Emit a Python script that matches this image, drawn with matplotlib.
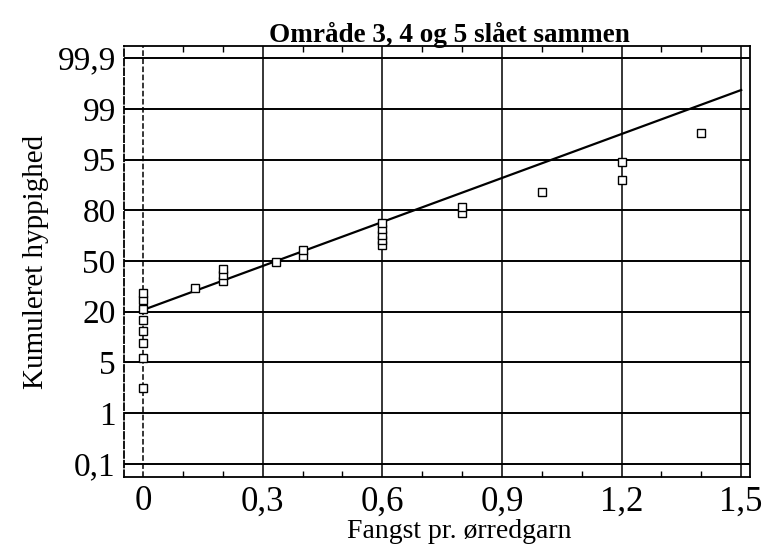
import numpy as np
import matplotlib.pyplot as plt

plt.rcParams['font.family'] = ['Liberation Serif', 'DejaVu Serif']

# Data: catch per gill net and position on the normal probability axis (z units)
fangst = [0, 0, 0, 0, 0, 0, 0, 0,
          0.13, 0.2, 0.2, 0.2, 0.333, 0.4, 0.4,
          0.6, 0.6, 0.6, 0.6, 0.6, 0.8, 0.8, 1.0, 1.2, 1.2, 1.4]
z_kum = [-1.877, -1.433, -1.212, -1.034, -0.872, -0.709, -0.576, -0.473,
         -0.399, -0.296, -0.207, -0.118, -0.015, 0.074, 0.163,
         0.236, 0.310, 0.384, 0.473, 0.562, 0.709, 0.798, 1.020, 1.197, 1.463, 1.892]

# Fitted line
line_x = [0, 1.5]
line_z = [-0.724, 2.527]

# Axis ticks
x_ticks = [0, 0.3, 0.6, 0.9, 1.2, 1.5]
x_labels = ['0', '0,3', '0,6', '0,9', '1,2', '1,5']
y_ticks = [-3, -2.25, -1.5, -0.75, 0, 0.75, 1.5, 2.25, 3]
y_labels = ['0,1', '1', '5', '20', '50', '80', '95', '99', '99,9']

fig = plt.figure(figsize=(7.67, 5.48), dpi=100)
ax = fig.add_axes([0.1617, 0.1296, 0.8166, 0.7864])

# grid lines
for yt in y_ticks:
    ax.axhline(yt, color='black', lw=1.4, zorder=1)
for xt in x_ticks:
    ls = '--' if xt == 0 else '-'
    ax.axvline(xt, color='black', lw=1.1, ls=ls, zorder=1)

ax.plot(line_x, line_z, color='black', lw=1.6, zorder=2)
ax.plot(fangst, z_kum, ls='none', marker='s', ms=5.5, mfc='white',
        mec='black', mew=1.0, zorder=3)

ax.set_xlim(-0.0476, 1.523)
ax.set_ylim(-3.192, 3.177)

ax.set_xticks(x_ticks)
ax.set_xticklabels(x_labels, fontsize=25)
ax.set_xticks(np.arange(0, 1.51, 0.1), minor=True)
ax.set_yticks(y_ticks)
ax.set_yticklabels(y_labels, fontsize=24)
ax.tick_params(axis='x', which='major', length=0, pad=6)
ax.tick_params(axis='x', which='minor', direction='in', length=4, top=True, width=1)
ax.tick_params(axis='y', length=0, pad=6)

for s in ax.spines.values():
    s.set_linewidth(1.3)
ax.spines['left'].set_linestyle('--')

ax.set_xlabel('Fangst pr. ørredgarn', fontsize=20)
ax.xaxis.set_label_coords(0.535, -0.098)
ax.set_ylabel('Kumuleret hyppighed', fontsize=21, labelpad=6)
ax.set_title('Område 3, 4 og 5 slået sammen', fontsize=19.5, fontweight='bold',
             pad=3, x=0.52)

fig.savefig('out.png', dpi=100)
